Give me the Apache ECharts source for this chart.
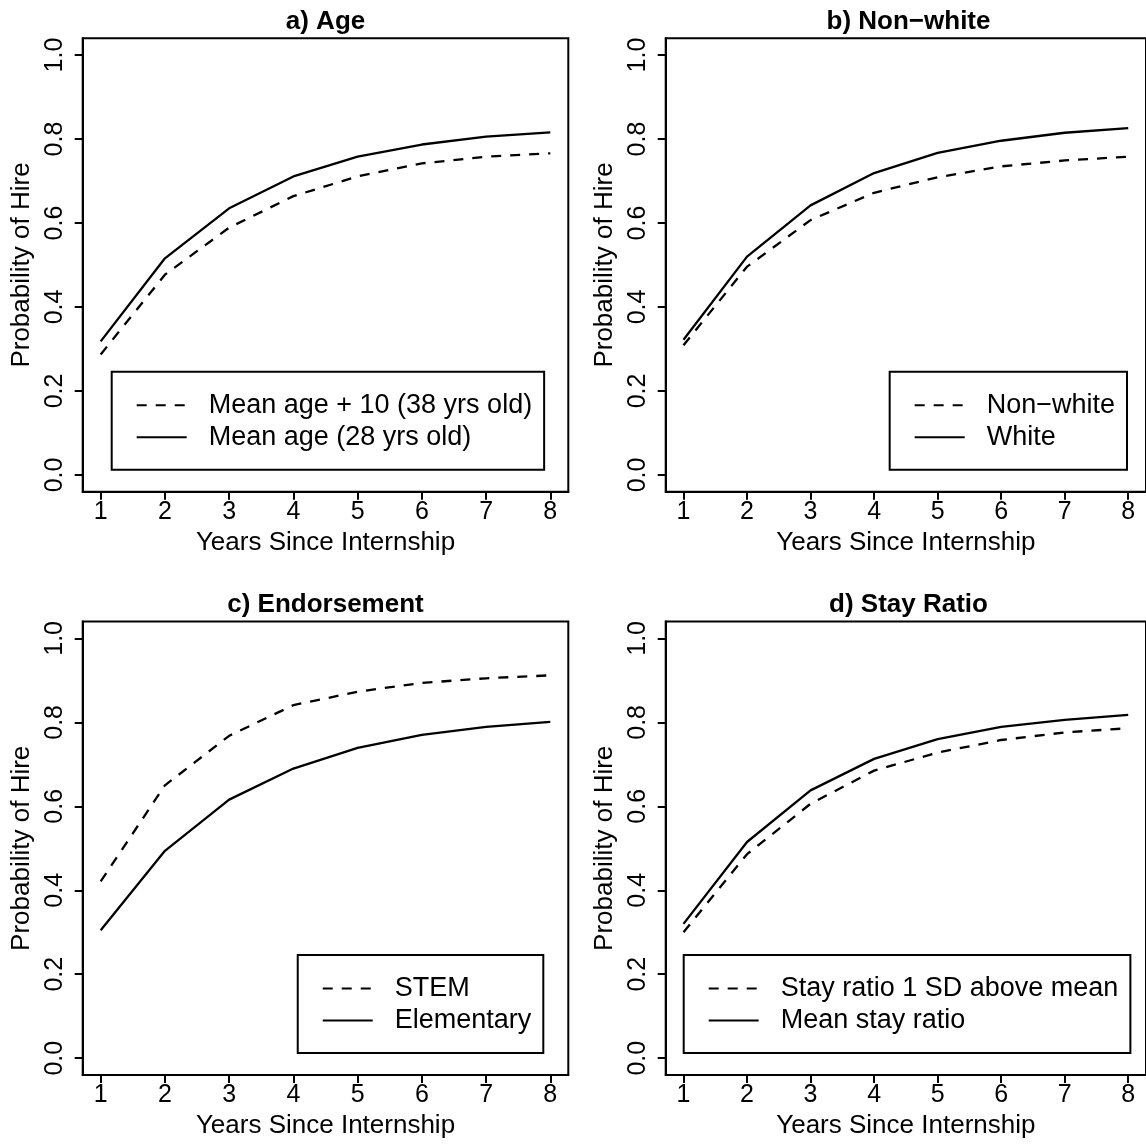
<!DOCTYPE html>
<html>
<head>
<meta charset="utf-8">
<script src="https://cdn.jsdelivr.net/npm/echarts@6/dist/echarts.min.js"></script>
<style>
html,body{margin:0;padding:0;background:#fff;}
#chart{width:1146px;height:1147px;}
</style>
</head>
<body>
<div id="chart"></div>
<script>
// ---- data ----
const years = [1, 2, 3, 4, 5, 6, 7, 8];
const xTicks = [1, 2, 3, 4, 5, 6, 7, 8];
const yTicks = [0, 0.2, 0.4, 0.6, 0.8, 1.0];
const panelTitles = ['a) Age', 'b) Non\u2212white', 'c) Endorsement', 'd) Stay Ratio'];
const xAxisTitle = 'Years Since Internship';
const yAxisTitle = 'Probability of Hire';

const ageOlder   = [0.287, 0.477, 0.589, 0.664, 0.711, 0.742, 0.758, 0.766];
const ageMean    = [0.318, 0.516, 0.635, 0.711, 0.758, 0.787, 0.806, 0.816];
const nonWhite   = [0.309, 0.496, 0.607, 0.672, 0.709, 0.735, 0.749, 0.758];
const white      = [0.322, 0.520, 0.642, 0.719, 0.767, 0.796, 0.815, 0.826];
const stem       = [0.421, 0.650, 0.768, 0.841, 0.873, 0.894, 0.905, 0.912];
const elementary = [0.305, 0.494, 0.616, 0.690, 0.739, 0.770, 0.789, 0.801];
const stayHigh   = [0.300, 0.486, 0.606, 0.685, 0.728, 0.758, 0.776, 0.786];
const stayMean   = [0.320, 0.515, 0.638, 0.713, 0.760, 0.789, 0.806, 0.818];

const legendNames = [
  ['Mean age + 10 (38 yrs old)', 'Mean age (28 yrs old)'],
  ['Non\u2212white', 'White'],
  ['STEM', 'Elementary'],
  ['Stay ratio 1 SD above mean', 'Mean stay ratio']
];
const panelData = [
  [ageOlder, ageMean],
  [nonWhite, white],
  [stem, elementary],
  [stayHigh, stayMean]
];

// ---- layout ----
const FONT = '"Liberation Sans", Arial, Helvetica, sans-serif';
const gridPos = [
  {left: 82.7, top: 38.3},
  {left: 665.7, top: 38.3},
  {left: 82.7, top: 621.6},
  {left: 665.7, top: 621.6}
];
const GW = 485.6, GH = 453.4;

const chart = echarts.init(document.getElementById('chart'), null, {renderer: 'canvas'});

const grids = [], xAxes = [], yAxes = [], series = [], titles = [], legends = [];
gridPos.forEach((p, i) => {
  grids.push({left: p.left, top: p.top, width: GW, height: GH, show: true,
    borderColor: '#000', borderWidth: 2, backgroundColor: 'transparent', containLabel: false});
  xAxes.push({
    type: 'value', gridIndex: i, min: 0.72, max: 8.28,
    name: xAxisTitle, nameLocation: 'middle', nameGap: 38,
    nameTextStyle: {fontFamily: FONT, fontSize: 26, color: '#000'},
    axisLine: {show: true, onZero: false, lineStyle: {color: '#000', width: 2}},
    axisTick: {show: true, length: 8, customValues: xTicks, lineStyle: {color: '#000', width: 2}},
    axisLabel: {show: true, customValues: xTicks, margin: 8, fontFamily: FONT, fontSize: 25, color: '#000',
      showMinLabel: true, showMaxLabel: true},
    splitLine: {show: false}
  });
  yAxes.push({
    type: 'value', gridIndex: i, min: -0.04, max: 1.04,
    name: yAxisTitle, nameLocation: 'middle', nameGap: 48,
    nameTextStyle: {fontFamily: FONT, fontSize: 26, color: '#000'},
    axisLine: {show: true, onZero: false, lineStyle: {color: '#000', width: 2}},
    axisTick: {show: true, length: 8, customValues: yTicks, lineStyle: {color: '#000', width: 2}},
    axisLabel: {show: true, customValues: yTicks, margin: 15, rotate: 90, fontFamily: FONT, fontSize: 25,
      color: '#000', formatter: v => v.toFixed(1)},
    splitLine: {show: false}
  });
  titles.push({
    text: panelTitles[i], left: p.left + GW / 2, top: p.top - 29.5, textAlign: 'center', padding: 0,
    textStyle: {fontFamily: FONT, fontSize: 26, fontWeight: 'bold', color: '#000'}
  });
  const styles = [[10, 9], 'solid'];
  panelData[i].forEach((vals, k) => {
    series.push({
      name: legendNames[i][k], type: 'line', xAxisIndex: i, yAxisIndex: i,
      data: years.map((x, j) => [x, vals[j]]),
      symbol: 'none', smooth: false, silent: true, animation: false,
      itemStyle: {color: '#000'},
      lineStyle: {color: '#000', width: 2.3, type: styles[k]}
    });
  });
});

const legendBase = {
  orient: 'vertical', selectedMode: false, itemWidth: 50, itemHeight: 20, itemGap: 5,
  borderColor: '#000', borderWidth: 2, backgroundColor: '#fff',
  padding: [20, 12, 19, 24],
  itemStyle: {opacity: 0, borderWidth: 0},
  textStyle: {fontFamily: FONT, fontSize: 27, color: '#000', padding: [0, 0, 0, 17]}
};
legends.push(Object.assign({}, legendBase, {data: legendNames[0], left: 111.7, top: 371.7}));
legends.push(Object.assign({}, legendBase, {data: legendNames[1], right: 19, top: 371.7}));
legends.push(Object.assign({}, legendBase, {data: legendNames[2], right: 602.7, top: 955}));
legends.push(Object.assign({}, legendBase, {data: legendNames[3], left: 683.7, top: 955}));

chart.setOption({
  backgroundColor: '#fff',
  animation: false,
  title: titles,
  grid: grids,
  xAxis: xAxes,
  yAxis: yAxes,
  legend: legends,
  series: series
});
</script>
</body>
</html>
